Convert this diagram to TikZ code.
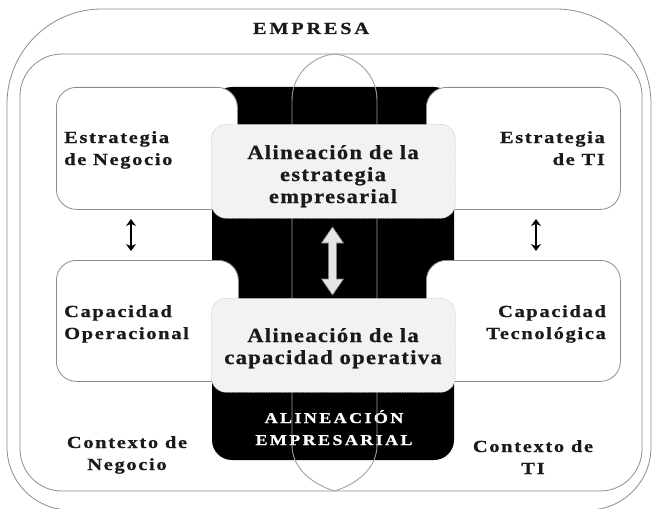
\documentclass[tikz,border=0pt]{standalone}
\usepackage{fontspec}
\setmainfont{Liberation Serif}
\newfontfamily\labfont{Liberation Serif Bold}[FakeStretch=1.2, LetterSpace=10, FakeBold=0.8]
\newfontfamily\capfont{Liberation Serif Bold}[FakeStretch=1.2, LetterSpace=16, FakeBold=0.8]
\newfontfamily\cfont{Liberation Serif Bold}[FakeStretch=1.12, LetterSpace=7, FakeBold=0.8]
\usetikzlibrary{arrows.meta}
\definecolor{ln}{HTML}{8C8C8C}
\definecolor{ovl}{HTML}{A0A0A0}
\definecolor{txt}{HTML}{1A1A1A}
\definecolor{lbox}{HTML}{F2F2F2}
\definecolor{lbord}{HTML}{C4C4C4}
\tikzset{
  frame/.style={draw=ln, line width=0.8pt},
  wbox/.style={draw=ln, line width=0.8pt, fill=white, rounded corners=20pt, inner sep=0pt, anchor=north west},
  lightbox/.style={draw=lbord, densely dotted, line width=0.7pt, fill=lbox, rounded corners=15pt, inner sep=0pt, anchor=north west},
  lab/.style={font=\labfont\fontsize{17}{22}\selectfont, text=txt, inner sep=0pt},
  cen/.style={font=\cfont\fontsize{20}{22}\selectfont, text=txt, inner sep=0pt, align=center, anchor=base},
  wlab/.style={font=\capfont\fontsize{15}{22}\selectfont, text=white, inner sep=0pt, align=center, anchor=base},
  sarrow/.style={draw=black, line width=1.3pt, {Stealth[length=7pt,width=10pt]}-{Stealth[length=7pt,width=10pt]}},
  bigarrow/.style={draw=gray, line width=0.6pt, fill=black!10}
}
\begin{document}
\begin{tikzpicture}[x=1pt,y=-1pt]
\useasboundingbox (0,0) rectangle (652,508);
% outer frame (EMPRESA)
\draw[frame, rounded corners=95pt] (7,300) |- (329,9) -| (651,300);
\draw[frame, rounded corners=63pt] (7,300) |- (329,510) -| (651,300);
% inner frame (contexto)
\draw[frame, rounded corners=42pt] (20,54) rectangle (642,491);
% black central block
\fill[black, rounded corners=20pt] (212,87) rectangle (454,460);
% white boxes
\node[wbox, minimum width=181pt, minimum height=122pt] (en) at (56,87) {};
\node[wbox, minimum width=194pt, minimum height=122pt] (eti) at (426,87) {};
\node[wbox, minimum width=182pt, minimum height=121pt] (co) at (56,260) {};
\node[wbox, minimum width=194pt, minimum height=121pt] (ct) at (426,260) {};
% text in black block (anchor = baseline of last line)
\node[wlab] (ae) at (334,445) {ALINEACIÓN\\EMPRESARIAL};
% oval
\draw[draw=ovl, line width=0.9pt] (292,100) -- (292,445)
  .. controls (292,470) and (315,485) .. (334.5,491)
  .. controls (354,485) and (377,470) .. (377,445) -- (377,100)
  .. controls (377,75) and (357,56) .. (334.5,54)
  .. controls (312,56) and (292,75) .. (292,100) -- cycle;
% light boxes
\node[lightbox, minimum width=244pt, minimum height=94pt] (ale) at (211,124) {};
\node[lightbox, minimum width=244pt, minimum height=94pt] (alc) at (211,298) {};
% big central arrow
\draw[bigarrow] (332.5,227) -- (343.5,243) -- (336.5,243) -- (336.5,279) -- (343.5,279)
  -- (332.5,295) -- (321.5,279) -- (328.5,279) -- (328.5,243) -- (321.5,243) -- cycle;
% small arrows
\coordinate (la1) at (131,219);
\coordinate (la2) at (131,251);
\coordinate (ra1) at (536,219);
\coordinate (ra2) at (536,251);
\draw[sarrow] (la1) -- (la2);
\draw[sarrow] (ra1) -- (ra2);
% labels (anchor = baseline of last line)
\node[lab, anchor=base, font=\capfont\fontsize{17}{22}\selectfont] (emp) at (311,34) {EMPRESA};
\node[lab, anchor=base west, align=left] (ten) at (64,165) {Estrategia\\de Negocio};
\node[lab, anchor=base east, align=right] (teti) at (605,165) {Estrategia\\de TI};
\node[lab, anchor=base west, align=left] (tco) at (64,339) {Capacidad\\Operacional};
\node[lab, anchor=base east, align=right] (tct) at (606,339) {Capacidad\\Tecnológica};
\node[lab, anchor=base, align=center] (tcn) at (127,470) {Contexto de\\Negocio};
\node[lab, anchor=base, align=center] (tcti) at (533,474) {Contexto de\\TI};
\node[cen] (tale) at (333,203) {Alineación de la\\estrategia\\empresarial};
\node[cen] (talc) at (333,364) {Alineación de la\\capacidad operativa};
\end{tikzpicture}
\end{document}
